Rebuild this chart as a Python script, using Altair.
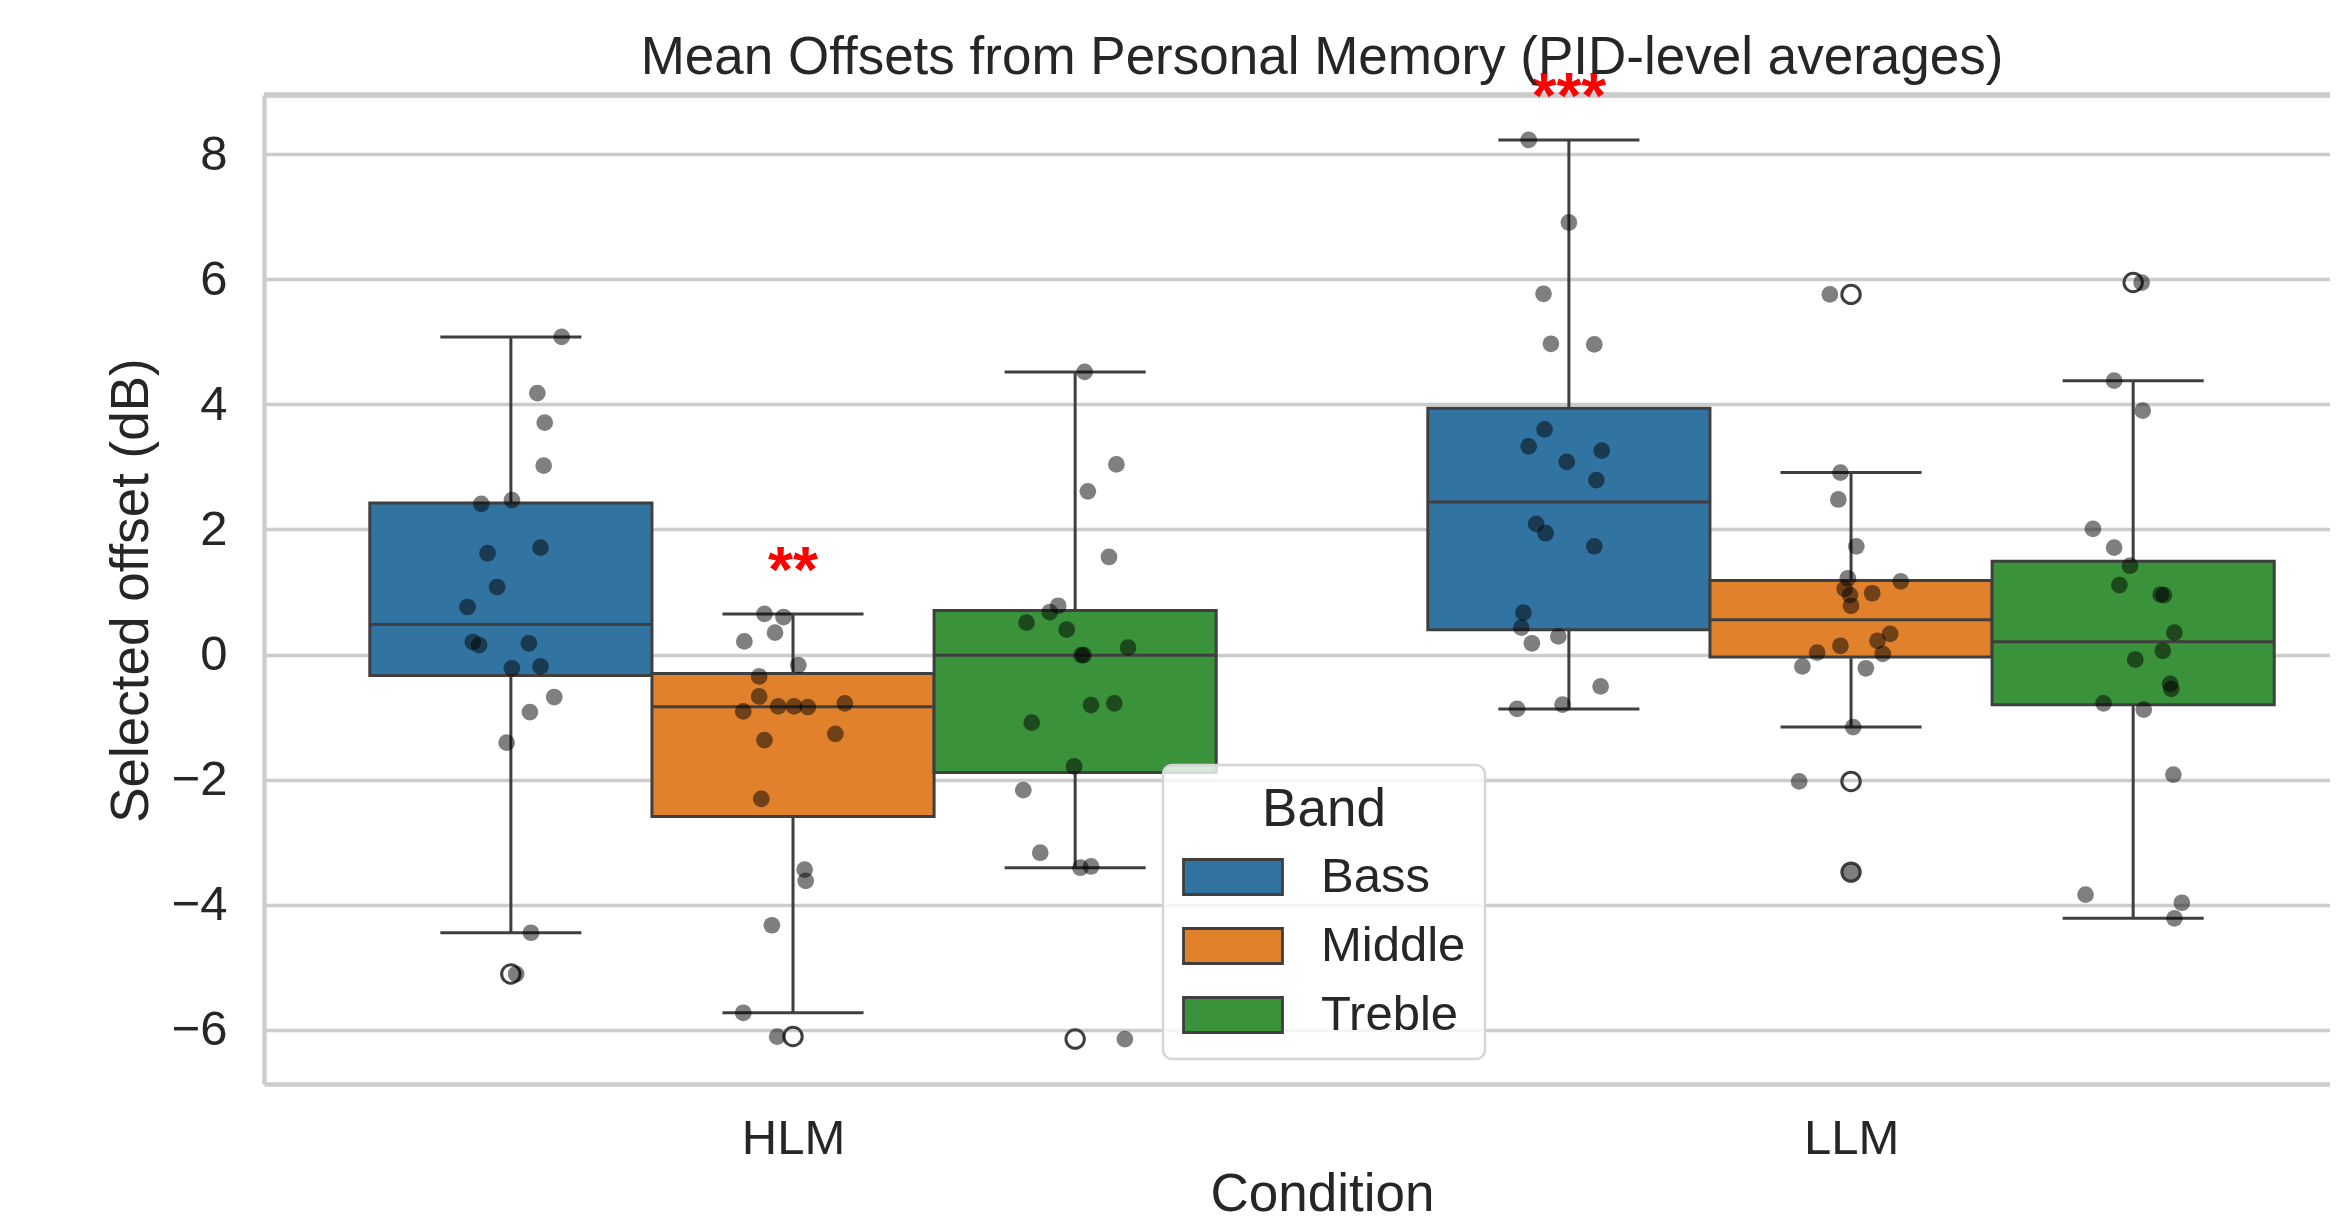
import altair as alt
import numpy as np
import pandas as pd

FONT = "Liberation Sans"
TXT = "#262626"
LINE = "#3f3f3f"
GRID = "#cccccc"

CONDITIONS = ["HLM", "LLM"]
BANDS = ["Bass", "Middle", "Treble"]
COLORS = ["#3274a1", "#e1812c", "#3a923a"]

# PID-level mean offsets (dB), with the strip jitter read per point
HLM_BASS = [5.08, 4.18, 3.71, 3.02, 2.41, 2.47, 1.62, 1.71, 1.08, 0.76,
            0.20, 0.15, 0.18, -0.22, -0.19, -0.68, -0.92, -1.41, -4.45, -5.11]
HLM_BASS_JIT = [0.048, 0.025, 0.032, 0.031, -0.028, 0.001, -0.022, 0.028, -0.013, -0.041,
                -0.036, -0.030, 0.017, 0.001, 0.028, 0.041, 0.018, -0.004, 0.019, 0.005]

HLM_MIDDLE = [0.65, 0.60, 0.35, 0.21, -0.17, -0.35, -0.67, -0.91, -0.83, -0.83,
              -0.84, -0.78, -1.37, -1.27, -2.31, -3.44, -3.62, -4.33, -5.73, -6.11]
HLM_MIDDLE_JIT = [-0.027, -0.009, -0.017, -0.046, 0.005, -0.032, -0.032, -0.047, -0.014, 0.001,
                  0.014, 0.049, -0.027, 0.040, -0.030, 0.011, 0.012, -0.020, -0.047, -0.015]

HLM_TREBLE = [4.52, 3.04, 2.61, 1.56, 0.78, 0.68, 0.51, 0.40, -0.01, -0.01,
              0.11, -0.81, -0.78, -1.09, -1.79, -2.17, -3.17, -3.41, -3.39, -6.15]
HLM_TREBLE_JIT = [0.009, 0.039, 0.012, 0.032, -0.016, -0.024, -0.046, -0.008, 0.008, 0.006,
                  0.050, 0.015, 0.037, -0.041, -0.001, -0.049, -0.033, 0.005, 0.015, 0.047]

LLM_BASS = [8.23, 6.91, 5.77, 4.97, 4.96, 3.60, 3.33, 3.26, 3.08, 2.79,
            2.09, 1.94, 1.73, 0.67, 0.43, 0.29, 0.18, -0.51, -0.87, -0.80]
LLM_BASS_JIT = [-0.038, 0.000, -0.024, -0.017, 0.024, -0.023, -0.038, 0.031, -0.002, 0.026,
                -0.031, -0.022, 0.024, -0.043, -0.045, -0.010, -0.035, 0.030, -0.049, -0.006]

LLM_MIDDLE = [5.76, 2.91, 2.48, 1.73, 1.22, 1.17, 1.05, 0.95, 0.98, 0.78,
              0.33, 0.22, 0.14, 0.03, 0.01, -0.19, -0.22, -1.16, -2.03, -3.48]
LLM_MIDDLE_JIT = [-0.020, -0.010, -0.012, 0.005, -0.003, 0.047, -0.006, -0.001, 0.020, 0.000,
                  0.037, 0.025, -0.010, -0.032, 0.030, -0.046, 0.014, 0.002, -0.049, 0.000]

LLM_TREBLE = [5.95, 4.38, 3.90, 2.01, 1.71, 1.42, 1.11, 0.96, 0.95, 0.35,
              -0.08, 0.06, -0.47, -0.55, -0.78, -0.88, -1.92, -3.84, -3.97, -4.22]
LLM_TREBLE_JIT = [0.008, -0.018, 0.009, -0.038, -0.018, -0.003, -0.013, 0.026, 0.029, 0.039,
                  0.002, 0.028, 0.035, 0.036, -0.028, 0.010, 0.038, -0.045, 0.046, 0.039]

SERIES = {
    ("HLM", "Bass"): (HLM_BASS, HLM_BASS_JIT),
    ("HLM", "Middle"): (HLM_MIDDLE, HLM_MIDDLE_JIT),
    ("HLM", "Treble"): (HLM_TREBLE, HLM_TREBLE_JIT),
    ("LLM", "Bass"): (LLM_BASS, LLM_BASS_JIT),
    ("LLM", "Middle"): (LLM_MIDDLE, LLM_MIDDLE_JIT),
    ("LLM", "Treble"): (LLM_TREBLE, LLM_TREBLE_JIT),
}

# significance markers
SIG_COND = ["HLM", "LLM"]
SIG_BAND = ["Middle", "Bass"]
SIG_TEXT = ["**", "***"]

Y_TICKS = [-6, -4, -2, 0, 2, 4, 6, 8]

# ---- layout constants ----
GROUP_W = 0.8
BOX_W = GROUP_W / len(BANDS)
X_DOMAIN = [-0.5, 1.4527]
TITLE_FS = 53
LABEL_FS = 49


def band_center(cond, band):
    return CONDITIONS.index(cond) + (BANDS.index(band) - 1) * BOX_W


pts, stats, outl = [], [], []
for (cond, band), (vals, jit) in SERIES.items():
    c = band_center(cond, band)
    arr = np.array(vals)
    for v, j in zip(vals, jit):
        pts.append({"cond": cond, "band": band, "v": v, "xp": c + j})
    q1, med, q3 = np.percentile(arr, [25, 50, 75])
    iqr = q3 - q1
    lo_f, hi_f = q1 - 1.5 * iqr, q3 + 1.5 * iqr
    inside = arr[(arr >= lo_f) & (arr <= hi_f)]
    stats.append({"cond": cond, "band": band, "xc": c,
                  "xl": c - BOX_W / 2, "xr": c + BOX_W / 2,
                  "cl": c - BOX_W / 4, "cr": c + BOX_W / 4,
                  "q1": q1, "q3": q3, "med": med,
                  "wlo": inside.min(), "whi": inside.max()})
    for v in arr[(arr < lo_f) | (arr > hi_f)]:
        outl.append({"cond": cond, "band": band, "v": float(v), "xc": c})

pts = pd.DataFrame(pts)
stats = pd.DataFrame(stats)
outl = pd.DataFrame(outl)

sig = []
for cond, band, t in zip(SIG_COND, SIG_BAND, SIG_TEXT):
    row = stats[(stats.cond == cond) & (stats.band == band)].iloc[0]
    sig.append({"xc": row.xc, "y": row.whi + 0.35, "t": t})
sig = pd.DataFrame(sig)

all_vals = pts["v"]
rng = all_vals.max() - all_vals.min()
Y_DOMAIN = [all_vals.min() - 0.05 * rng, all_vals.max() + 0.05 * rng]

XS = alt.Scale(domain=X_DOMAIN, nice=False, zero=False)
YS = alt.Scale(domain=Y_DOMAIN, nice=False, zero=False)

cond_expr = "datum.value == 0 ? '%s' : '%s'" % (CONDITIONS[0], CONDITIONS[1])
XAXIS = alt.Axis(values=[0, 1], labelExpr=cond_expr, title="Condition",
                 grid=False, ticks=False, tickSize=0, labelPadding=30, labelFlush=False,
                 labelFontSize=LABEL_FS, titleFontSize=TITLE_FS, titleFontWeight="normal",
                 titleX=1058, titleY=126, titleBaseline="alphabetic", titleAlign="center",
                 domainColor=GRID, domainWidth=4.3)
YAXIS = alt.Axis(values=Y_TICKS,
                 labelExpr="datum.value < 0 ? '\u2212' + abs(datum.value) : '' + datum.value",
                 title="Selected offset (dB)", grid=True, gridColor=GRID, gridWidth=3.3,
                 ticks=False, tickSize=0, labelPadding=37, labelFontSize=LABEL_FS,
                 titleFontSize=TITLE_FS, titleFontWeight="normal",
                 titleX=-117, titleY=495, titleAngle=270, titleBaseline="alphabetic",
                 titleAlign="center", domainColor=GRID, domainWidth=4.3)


def X(f):
    return alt.X(f, type="quantitative", scale=XS, axis=XAXIS)


def Y(f):
    return alt.Y(f, type="quantitative", scale=YS, axis=YAXIS)


stat_base = alt.Chart(stats)

top_spine = alt.Chart(stats).mark_rule(color=GRID, strokeWidth=4.3).encode(
    y=alt.datum(Y_DOMAIN[1], type="quantitative", scale=YS, axis=YAXIS)
)

LW = 3.0
whisk = stat_base.mark_rule(color=LINE, strokeWidth=LW).encode(
    x=X("xc"), y=Y("wlo"), y2="whi")
caps_lo = stat_base.mark_rule(color=LINE, strokeWidth=LW).encode(
    x=X("cl"), x2="cr", y=Y("wlo"))
caps_hi = stat_base.mark_rule(color=LINE, strokeWidth=LW).encode(
    x=X("cl"), x2="cr", y=Y("whi"))

boxes = stat_base.mark_rect(stroke=LINE, strokeWidth=LW, opacity=1).encode(
    x=X("xl"), x2="xr", y=Y("q1"), y2="q3",
    fill=alt.Fill("band:N", scale=alt.Scale(domain=BANDS, range=COLORS),
                  legend=alt.Legend(
                      title="Band", orient="none", legendX=899, legendY=670,
                      titleFontSize=TITLE_FS, titleFontWeight="normal", titleColor=TXT,
                      titleFont=FONT, titleAnchor="middle", titleAlign="center",
                      titlePadding=21, labelFontSize=LABEL_FS, labelFont=FONT, labelColor=TXT,
                      labelOffset=37,
                      symbolType="M-1,-0.354L1,-0.354L1,0.354L-1,0.354Z",
                      symbolSize=9801, symbolStrokeColor=LINE, symbolStrokeWidth=2.8,
                      symbolOpacity=1, clipHeight=38, rowPadding=20, padding=19,
                      fillColor="rgba(255,255,255,0.8)", strokeColor="#d6d6d6",
                      cornerRadius=9)),
)

medians = stat_base.mark_rule(color=LINE, strokeWidth=LW).encode(
    x=X("xl"), x2="xr", y=Y("med"))

fliers = alt.Chart(outl).mark_point(shape="circle", filled=False, size=340,
                                    stroke=LINE, strokeWidth=3, opacity=1).encode(
    x=X("xc"), y=Y("v"))

strip = alt.Chart(pts).mark_circle(size=280, color="black", opacity=0.5).encode(
    x=X("xp"), y=Y("v"))

stars = alt.Chart(sig).mark_text(color="red", fontSize=64, fontWeight="bold",
                                 font=FONT, align="center", baseline="alphabetic").encode(
    x=X("xc"), y=Y("y"), text="t:N")

chart = alt.layer(top_spine, whisk, caps_lo, caps_hi, boxes, medians, fliers, strip, stars).properties(
    width=2066, height=989,
    autosize=alt.AutoSizeParams(type="none"),
    padding={"left": 256, "top": 87, "right": 0, "bottom": 128},
    title=alt.TitleParams("Mean Offsets from Personal Memory (PID-level averages)",
                          fontSize=TITLE_FS, font=FONT, fontWeight="normal", color=TXT,
                          anchor="middle", frame="group", baseline="alphabetic",
                          offset=23, dx=25, dy=83),
).configure_view(stroke=None).configure_axis(
    labelFont=FONT, titleFont=FONT, labelColor=TXT, titleColor=TXT
).configure_legend(strokeWidth=2.5)

chart.save("out.html", embed_options={"renderer": "svg", "actions": False})
